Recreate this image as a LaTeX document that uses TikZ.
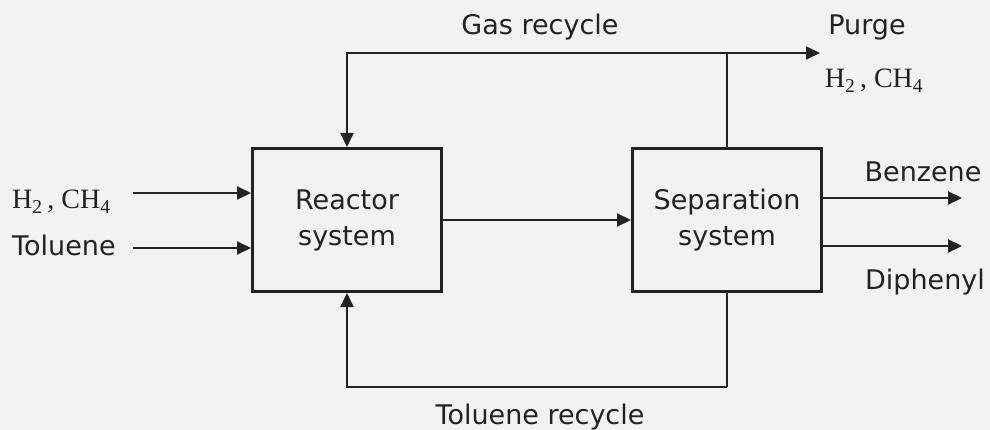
\documentclass[tikz,border=0pt]{standalone}
\usepackage{fontspec}
\setmainfont{DejaVu Sans}
\newfontfamily\chemfont{Liberation Serif}
\usetikzlibrary{positioning,arrows.meta}
\definecolor{ink}{HTML}{222222}
\definecolor{paper}{HTML}{F1F2F2}
\tikzset{
  unit/.style={rectangle,draw=ink,line width=3pt,minimum width=189pt,
    minimum height=143pt,align=center,text=ink,
    font=\fontsize{27}{36}\selectfont},
  fl/.style={-{Triangle[length=14pt,width=13pt]},draw=ink,line width=2pt},
  ln/.style={draw=ink,line width=2pt},
  lbl/.style={font=\fontsize{27}{32}\selectfont,text=ink,inner sep=0pt},
  chem/.style={font=\chemfont\fontsize{28}{32}\selectfont,text=ink,inner sep=0pt},
}

\begin{document}
\begin{tikzpicture}[x=1pt,y=-1pt]
  \fill[paper] (0,0) rectangle (990,430);
  % the two units
  \node[unit] (reactor) at (347,220) {Reactor\\system};
  \node[unit,right=188pt of reactor] (sep) {Separation\\system};
  \draw[fl] (reactor) -- (sep);
  % feeds
  \coordinate (h2in) at (133,193);
  \coordinate (tolin) at (133,248);
  \node[chem,anchor=base west] (h2lbl) at (12,209) {H\textsubscript{2}\,, CH\textsubscript{4}};
  \node[lbl,anchor=base west] (tollbl) at (12,256) {Toluene};
  \draw[fl] (h2in) -- (reactor.west |- h2in);
  \draw[fl] (tolin) -- (reactor.west |- tolin);
  % gas recycle and purge
  \coordinate (gtop) at (sep.north |- 0,53);
  \coordinate (purge) at (820,53);
  \draw[ln] (sep.north) -- (gtop);
  \draw[fl] (gtop) -| (reactor.north);
  \draw[fl] (gtop) -- (purge);
  \node[lbl,anchor=base] (gaslbl) at (540,35) {Gas recycle};
  \node[lbl,anchor=base] (purgelbl) at (867,35) {Purge};
  \node[chem,anchor=base] (purgegas) at (874,88) {H\textsubscript{2}\,, CH\textsubscript{4}};
  % toluene recycle
  \coordinate (tbot) at (sep.south |- 0,387);
  \draw[ln] (sep.south) -- (tbot);
  \draw[fl] (tbot) -| (reactor.south);
  \node[lbl,anchor=base] (tollrec) at (540,424) {Toluene recycle};
  % products
  \coordinate (bzout) at (962,198);
  \coordinate (dpout) at (962,246);
  \draw[fl] (sep.east |- bzout) -- (bzout);
  \draw[fl] (sep.east |- dpout) -- (dpout);
  \node[lbl,anchor=base] (bzlbl) at (923,182) {Benzene};
  \node[lbl,anchor=base] (dplbl) at (925,290) {Diphenyl};
\end{tikzpicture}
\end{document}
